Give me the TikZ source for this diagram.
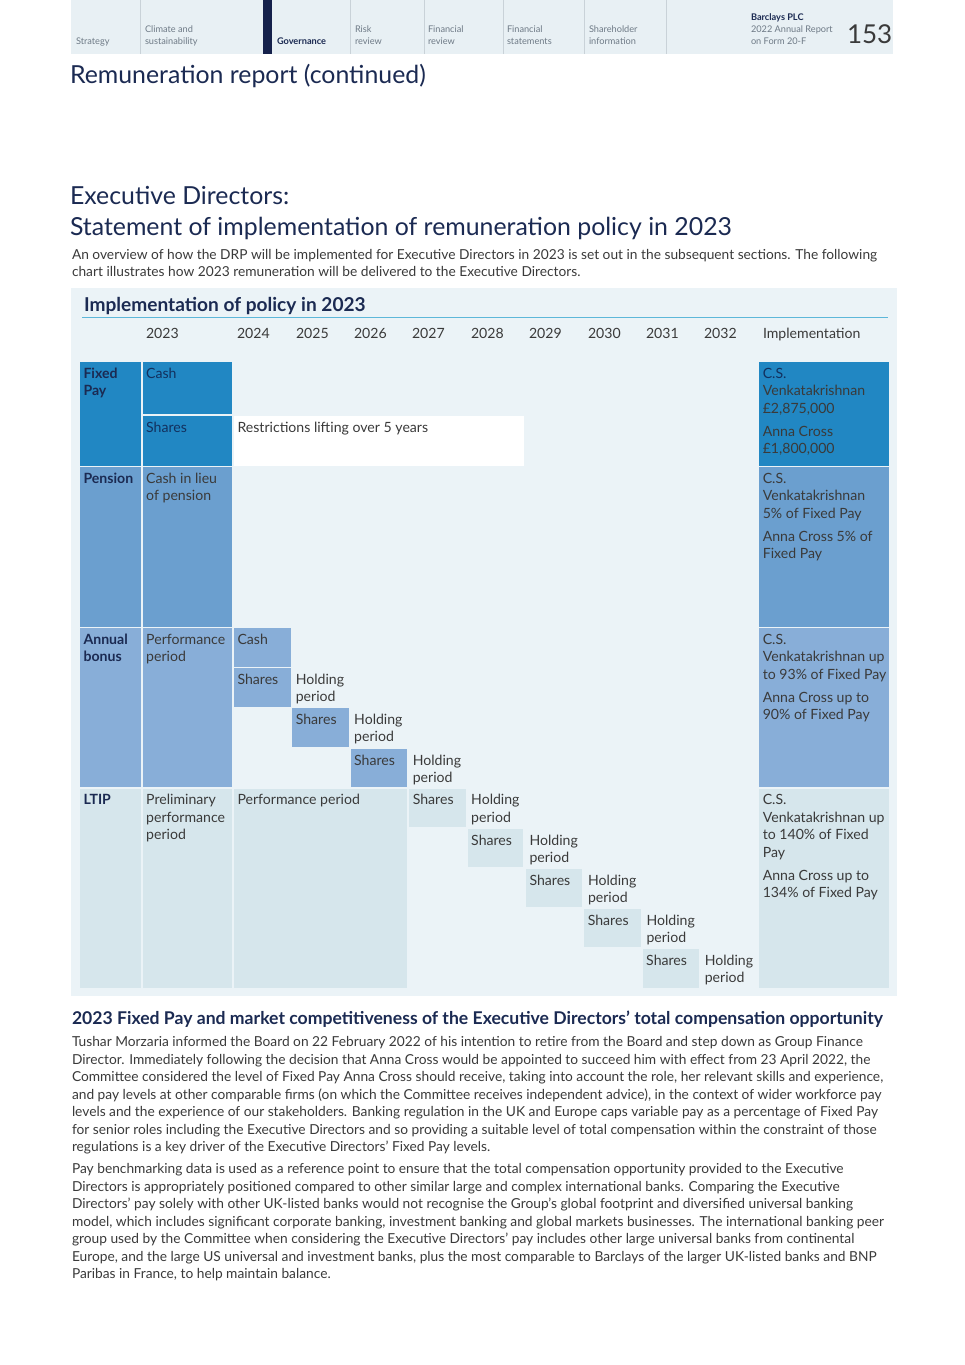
\documentclass[tikz,border=0pt]{standalone}
\usepackage{fontspec}
\setmainfont{Lato}
\definecolor{navy}{HTML}{1B2A52}
\definecolor{navybar}{HTML}{15214B}
\definecolor{fpblue}{HTML}{2187C3}
\definecolor{penblue}{HTML}{6B9FCF}
\definecolor{bonblue}{HTML}{88AED8}
\definecolor{ltipblue}{HTML}{D6E6EC}
\definecolor{panel}{HTML}{EBF3F7}
\definecolor{band}{HTML}{E8F0F4}
\definecolor{rulec}{HTML}{5DB7D9}
\definecolor{bodyc}{HTML}{3A3A3A}
\definecolor{tabc}{HTML}{6E7A86}
\definecolor{sepc}{HTML}{C9D2D8}
\definecolor{fptext}{HTML}{12305E}
\newcommand{\rt}[1]{\rule{0pt}{#1pt}}
\tikzset{
  every node/.style={inner sep=0pt, outer sep=0pt},
  tab/.style={anchor=north west, align=left, text=tabc, font=\fontsize{9.2}{12}\selectfont},
  ttl/.style={anchor=base west, text=navy, font=\fontsize{24.85}{31}\selectfont},
  bodytxt/.style={anchor=north west, align=left, text=bodyc, font=\fontsize{13.75}{17.5}\selectfont},
  celltxt/.style={anchor=north west, align=left, text=bodyc, font=\fontsize{14.1}{17.5}\selectfont},
  yr/.style={anchor=base west, text=bodyc, font=\fontsize{14.1}{17.5}\selectfont},
}
\newcommand{\cellbox}[7]{%
  \fill[#6] (#2,#3) rectangle (#4,#5);
  \node[celltxt] (#1) at (#2+3.5,#3+4) {\rt{12}#7};}
\begin{document}
\begin{tikzpicture}[x=1pt,y=-1pt]
\useasboundingbox (0,0) rectangle (965,1365);
\fill[white] (0,0) rectangle (965,1365);
% header band
\fill[band] (71,0) rectangle (893,54);
\foreach \xx in {140.7,350.7,424.3,503.3,584.3,666.7}
  \draw[sepc, line width=0.8pt] (\xx,0) -- (\xx,54);
\fill[navybar] (262.5,0) rectangle (271.8,54);
\node[tab] (tstrat) at (76,34) {\rt{10}Strategy};
\node[tab] (tclim) at (145,22) {\rt{10}Climate and\\sustainability};
\node[tab, text=navy, font=\fontsize{9.2}{12}\selectfont\bfseries] (tgov) at (277,34) {\rt{10}Governance};
\node[tab] (trisk) at (355,22) {\rt{10}Risk\\review};
\node[tab] (tfin) at (428,22) {\rt{10}Financial\\review};
\node[tab] (tfs) at (507,22) {\rt{10}Financial\\statements};
\node[tab] (tsh) at (589,22) {\rt{10}Shareholder\\information};
\node[tab, text=navy, font=\fontsize{9.2}{12}\selectfont\bfseries] (tbar) at (751,10) {\rt{10}Barclays PLC};
\node[tab] (trep) at (751,22) {\rt{10}2022 Annual Report\\on Form 20-F};
\node[anchor=base west, text=bodyc, font=\fontsize{26}{30}\selectfont] (tpage) at (847,43) {153};
% titles
\node[ttl] (title1) at (70,83) {Remuneration report (continued)};
\node[ttl] (title2) at (70,204) {Executive Directors:};
\node[ttl] (title3) at (70,235) {Statement of implementation of remuneration policy in 2023};
\node[bodytxt] (intro) at (72,247) {\rt{12}An overview of how the DRP will be implemented for Executive Directors in 2023 is set out in the subsequent sections. The following\\chart illustrates how 2023 remuneration will be delivered to the Executive Directors.};
% chart panel
\fill[panel] (71,288) rectangle (897,996);
\node[anchor=base west, text=navy, font=\fontsize{19.1}{22}\selectfont\bfseries] (ctitle) at (84,311.5) {Implementation of policy in 2023};
\draw[rulec, line width=0.9pt] (82,317.5) -- (888,317.5);
\node[yr] (y23) at (146,338) {2023};
\node[yr] (y24) at (237,338) {2024};
\node[yr] (y25) at (296,338) {2025};
\node[yr] (y26) at (354,338) {2026};
\node[yr] (y27) at (412,338) {2027};
\node[yr] (y28) at (471,338) {2028};
\node[yr] (y29) at (529,338) {2029};
\node[yr] (y30) at (588,338) {2030};
\node[yr] (y31) at (646,338) {2031};
\node[yr] (y32) at (704,338) {2032};
\node[yr] (yimp) at (763,338) {Implementation};
% Fixed Pay
\cellbox{fpl}{80}{362.3}{140.7}{465.7}{fpblue}{\textcolor{navy}{\bfseries Fixed}\\\textcolor{navy}{\bfseries Pay}}
\cellbox{fpc}{142.7}{362.3}{232.3}{414.3}{fpblue}{\textcolor{fptext}{Cash}}
\cellbox{fps}{142.7}{416}{232.3}{465.7}{fpblue}{\textcolor{fptext}{Shares}}
\cellbox{fpr}{234}{416}{524}{465.7}{white}{Restrictions lifting over 5 years}
\cellbox{fpi}{759.3}{362.3}{889}{465.7}{fpblue}{\color{fptext}C.S.\\Venkatakrishnan\\£2,875,000\\[5.5pt]Anna Cross\\£1,800,000}
% Pension
\cellbox{pel}{80}{467.3}{140.7}{626.7}{penblue}{\textcolor{navy}{\bfseries Pension}}
\cellbox{pes}{142.7}{467.3}{232.3}{626.7}{penblue}{Cash in lieu\\of pension}
\cellbox{pei}{759.3}{467.3}{889}{626.7}{penblue}{C.S.\\Venkatakrishnan\\5\% of Fixed Pay\\[5.5pt]Anna Cross 5\% of\\Fixed Pay}
% Annual bonus
\cellbox{abl}{80}{628.3}{140.7}{786.7}{bonblue}{\textcolor{navy}{\bfseries Annual}\\\textcolor{navy}{\bfseries bonus}}
\cellbox{abp}{142.7}{628.3}{232.3}{786.7}{bonblue}{Performance\\period}
\cellbox{abc}{234}{628.3}{290.7}{666.7}{bonblue}{Cash}
\cellbox{abs1}{234}{668.3}{290.7}{706.7}{bonblue}{Shares}
\node[celltxt] (abh1) at (295.8,672.3) {\rt{12}Holding\\period};
\cellbox{abs2}{292.3}{708.3}{349}{747.3}{bonblue}{Shares}
\node[celltxt] (abh2) at (354.2,712.3) {\rt{12}Holding\\period};
\cellbox{abs3}{350.7}{749}{407.3}{786.7}{bonblue}{Shares}
\node[celltxt] (abh3) at (412.8,753) {\rt{12}Holding\\period};
\cellbox{abi}{759.3}{628.3}{889}{786.7}{bonblue}{C.S.\\Venkatakrishnan up\\to 93\% of Fixed Pay\\[5.5pt]Anna Cross up to\\90\% of Fixed Pay}
% LTIP
\cellbox{ltl}{80}{788.5}{140.7}{988.3}{ltipblue}{\textcolor{navy}{\bfseries LTIP}}
\cellbox{ltp}{142.7}{788.5}{232.3}{988.3}{ltipblue}{Preliminary\\performance\\period}
\cellbox{ltperf}{234}{788.5}{407.3}{988.3}{ltipblue}{Performance period}
\cellbox{lts1}{409.3}{788.5}{465.7}{826.7}{ltipblue}{Shares}
\node[celltxt] (lth1) at (471.2,792.5) {\rt{12}Holding\\period};
\cellbox{lts2}{467.7}{829}{523.3}{867}{ltipblue}{Shares}
\node[celltxt] (lth2) at (529.5,833) {\rt{12}Holding\\period};
\cellbox{lts3}{526}{869}{582.3}{907.3}{ltipblue}{Shares}
\node[celltxt] (lth3) at (588,873) {\rt{12}Holding\\period};
\cellbox{lts4}{584.3}{909}{640.7}{947}{ltipblue}{Shares}
\node[celltxt] (lth4) at (646.5,913) {\rt{12}Holding\\period};
\cellbox{lts5}{642.7}{949.3}{699}{988.3}{ltipblue}{Shares}
\node[celltxt] (lth5) at (704.8,953.3) {\rt{12}Holding\\period};
\cellbox{lti}{759.3}{788.5}{889}{988.3}{ltipblue}{C.S.\\Venkatakrishnan up\\to 140\% of Fixed\\Pay\\[5.5pt]Anna Cross up to\\134\% of Fixed Pay}
% bottom section
\node[anchor=base west, text=navy, font=\fontsize{17.6}{20}\selectfont\bfseries] (head2) at (72,1024.5) {2023 Fixed Pay and market competitiveness of the Executive Directors’ total compensation opportunity};
\node[bodytxt] (para1) at (72,1034.5) {\rt{12}Tushar Morzaria informed the Board on 22 February 2022 of his intention to retire from the Board and step down as Group Finance\\
Director. Immediately following the decision that Anna Cross would be appointed to succeed him with effect from 23 April 2022, the\\
Committee considered the level of Fixed Pay Anna Cross should receive, taking into account the role, her relevant skills and experience,\\
and pay levels at other comparable firms (on which the Committee receives independent advice), in the context of wider workforce pay\\
levels and the experience of our stakeholders. Banking regulation in the UK and Europe caps variable pay as a percentage of Fixed Pay\\
for senior roles including the Executive Directors and so providing a suitable level of total compensation within the constraint of those\\
regulations is a key driver of the Executive Directors’ Fixed Pay levels.};
\node[bodytxt] (para2) at (72,1161.5) {\rt{12}Pay benchmarking data is used as a reference point to ensure that the total compensation opportunity provided to the Executive\\
Directors is appropriately positioned compared to other similar large and complex international banks. Comparing the Executive\\
Directors’ pay solely with other UK-listed banks would not recognise the Group’s global footprint and diversified universal banking\\
model, which includes significant corporate banking, investment banking and global markets businesses. The international banking peer\\
group used by the Committee when considering the Executive Directors’ pay includes other large universal banks from continental\\
Europe, and the large US universal and investment banks, plus the most comparable to Barclays of the larger UK-listed banks and BNP\\
Paribas in France, to help maintain balance.};
\end{tikzpicture}
\end{document}
